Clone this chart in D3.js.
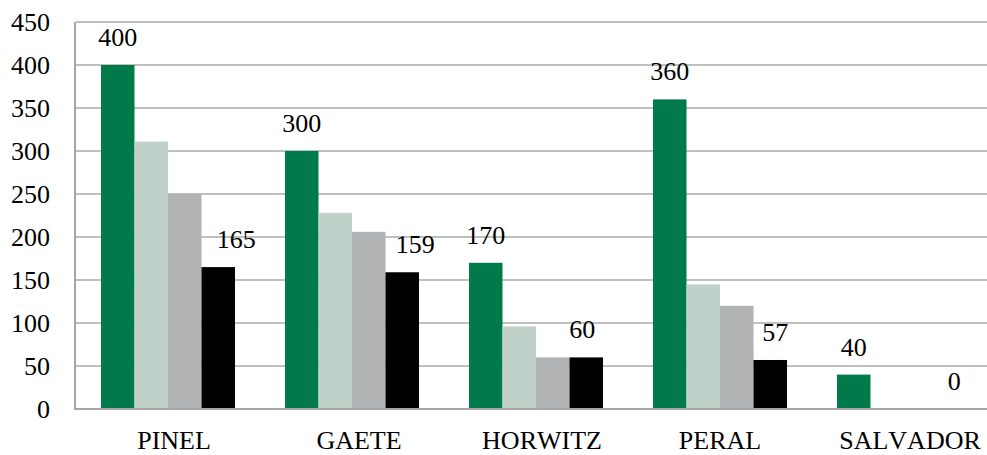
<!DOCTYPE html>
<html>
<head>
<meta charset="utf-8">
<script src="https://cdn.jsdelivr.net/npm/d3@7"></script>
<style>
	body { margin: 0; background: #fff; }
	svg text { font-family: "Liberation Serif", "Times New Roman", serif; fill: #000; font-kerning: none; }
</style>
</head>
<body>
<svg width="987" height="455"></svg>
<script>
var categories = ["PINEL", "GAETE", "HORWITZ", "PERAL", "SALVADOR"]
var seriesNames = ["s1", "s2", "s3", "s4"]
var s1 = [400, 300, 170, 360, 40]
var s2 = [311, 228, 96, 145, 0]
var s3 = [250, 206, 60, 120, 0]
var s4 = [165, 159, 60, 57, 0]
var yTicks = [0, 50, 100, 150, 200, 250, 300, 350, 400, 450]
// only the first and last series carry value labels
var labelled = ["s1", "s4"]

var colors = {
	s1: "#007a4a",
	s2: "#bfd1c8",
	s3: "#b1b2b4",
	s4: "#000000"
}

// note: "top" is reserved on window, so use plot* names
var plotLeft = 76, plotRight = 996, plotTop = 22, plotBottom = 409

// hand nudges, the original labels were not quite centred
var catNudge = [6, 7, 6, 0, 6]
var blackNudge = [18, 13, -4, 5, 0]

var svg = d3.select("svg")

var y = d3.scaleLinear().domain([0, 450]).range([plotBottom, plotTop])

var pad = 50 / 184
var x0 = d3.scaleBand()
	.domain(categories)
	.range([plotLeft, plotRight])
	.paddingInner(pad)
	.paddingOuter(pad / 2)

var x1 = d3.scaleBand()
	.domain(seriesNames)
	.range([0, x0.bandwidth()])

var values = { s1: s1, s2: s2, s3: s3, s4: s4 }

// grid lines
var grid = svg.append("g").attr("class", "grid")
yTicks.forEach(function(t) {
	if (t == 0) return
	grid.append("line")
		.attr("x1", plotLeft)
		.attr("x2", 987)
		.attr("y1", Math.round(y(t)))
		.attr("y2", Math.round(y(t)))
		.attr("stroke", "#bfbfbf")
		.attr("stroke-width", 2)
})

// y tick labels
var yAxis = d3.axisLeft(y).tickValues(yTicks).tickSize(0).tickPadding(26)
var ya = svg.append("g").attr("transform", "translate(" + plotLeft + ",0)").call(yAxis)
ya.select(".domain").remove()
ya.selectAll("text")
	.attr("font-size", 26)
	.attr("fill", "#000")

// bars
var groups = svg.append("g").attr("class", "bars")
categories.forEach(function(cat, ci) {
	var g = groups.append("g").attr("transform", "translate(" + x0(cat) + ",0)")
	seriesNames.forEach(function(s) {
		var v = values[s][ci]
		if (v > 0) {
			g.append("rect")
				.attr("x", x1(s))
				.attr("y", y(v))
				.attr("width", x1.bandwidth())
				.attr("height", y(0) - y(v))
				.attr("fill", colors[s])
		}
		if (labelled.indexOf(s) >= 0) {
			var dx = s == "s4" ? blackNudge[ci] : 0
			g.append("text")
				.attr("x", x1(s) + x1.bandwidth() / 2 + dx)
				.attr("y", y(v) - 19)
				.attr("text-anchor", "middle")
				.attr("font-size", 26)
				.text(v)
		}
	})
})

// axis lines
svg.append("line")
	.attr("x1", plotLeft - 1).attr("x2", plotLeft - 1)
	.attr("y1", plotTop).attr("y2", plotBottom + 1)
	.attr("stroke", "#a6a6a6").attr("stroke-width", 2)
svg.append("line")
	.attr("x1", plotLeft - 2).attr("x2", 987)
	.attr("y1", plotBottom).attr("y2", plotBottom)
	.attr("stroke", "#a6a6a6").attr("stroke-width", 2)

// category labels
var xAxis = d3.axisBottom(x0).tickSize(0).tickPadding(22)
var xa = svg.append("g").attr("transform", "translate(0," + plotBottom + ")").call(xAxis)
xa.select(".domain").remove()
xa.selectAll("text")
	.attr("font-size", 26)
	.attr("fill", "#000")
	.attr("dx", function(d, i) { return catNudge[i] })
</script>
</body>
</html>
